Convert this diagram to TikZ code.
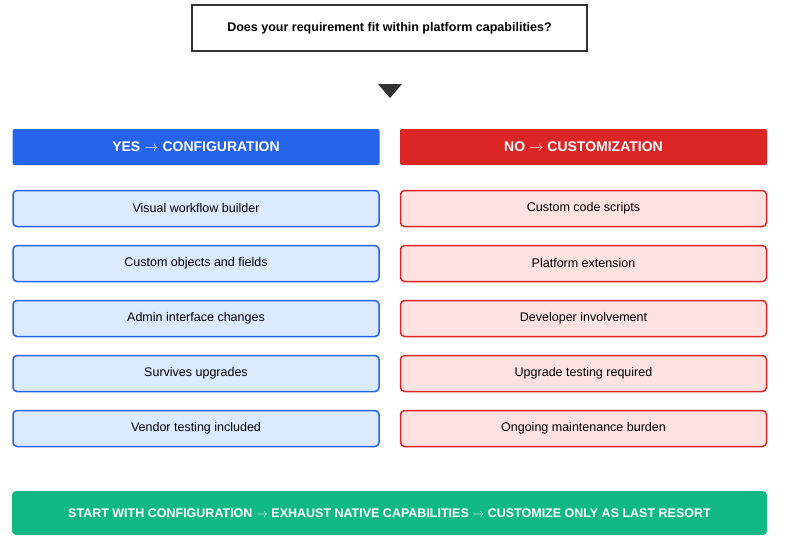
\documentclass[tikz,border=0pt]{standalone}
\usepackage{fontspec}
\setmainfont{Liberation Sans}
\usetikzlibrary{shapes.geometric}
\definecolor{blu}{HTML}{2563EB}
\definecolor{blul}{HTML}{DBEAFE}
\definecolor{rd}{HTML}{DC2626}
\definecolor{rdl}{HTML}{FEE2E2}
\definecolor{grn}{HTML}{10B981}
\definecolor{dk}{HTML}{333333}
\begin{document}
\begin{tikzpicture}[x=1pt,y=-1pt,
  hdr/.style={rounded corners=2pt,minimum width=367pt,minimum height=36pt,text=white,font=\bfseries\fontsize{14}{16}\selectfont},
  itm/.style={rounded corners=4pt,line width=1.5pt,minimum width=366pt,minimum height=36pt,font=\fontsize{12.5}{14}\selectfont},
  bi/.style={itm,draw=blu,fill=blul},
  ri/.style={itm,draw=rd,fill=rdl}]
\useasboundingbox (0,0) rectangle (790,547);
\node[draw=dk,line width=2.5pt,fill=white,minimum width=395pt,minimum height=46pt,font=\bfseries\fontsize{12.5}{14}\selectfont] (q) at (389.5,28) {Does your requirement fit within platform capabilities?};
\coordinate (t) at (390,91);
\fill[dk] ([xshift=-12pt,yshift=7pt]t) -- ([xshift=12pt,yshift=7pt]t) -- ([yshift=-7pt]t) -- cycle;
\node[hdr,fill=blu] (yes) at (196,147) {YES $\rightarrow$ CONFIGURATION};
\node[hdr,fill=rd] (no) at (583.5,147) {NO $\rightarrow$ CUSTOMIZATION};
\foreach \i/\a/\b in {0/Visual workflow builder/Custom code scripts,1/Custom objects and fields/Platform extension,2/Admin interface changes/Developer involvement,3/Survives upgrades/Upgrade testing required,4/Vendor testing included/Ongoing maintenance burden}{
  \node[bi] (b\i) at (196,208.5+55*\i) {\a};
  \node[ri] (r\i) at (583.5,208.5+55*\i) {\b};
}
\node[fill=grn,rounded corners=4pt,minimum width=755pt,minimum height=44pt,text=white,font=\bfseries\fontsize{12.5}{14}\selectfont] (g) at (389.5,513) {START WITH CONFIGURATION $\rightarrow$ EXHAUST NATIVE CAPABILITIES $\rightarrow$ CUSTOMIZE ONLY AS LAST RESORT};
\end{tikzpicture}
\end{document}
